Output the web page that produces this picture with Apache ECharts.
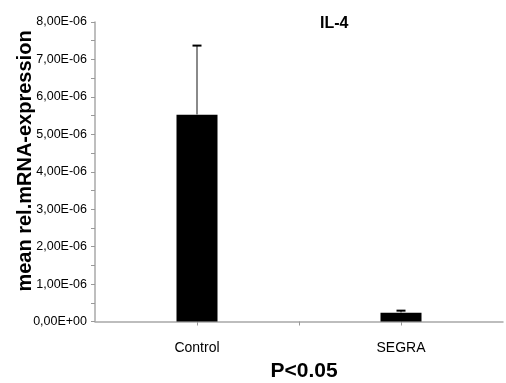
<!DOCTYPE html>
<html>
<head>
<meta charset="utf-8">
<script src="https://cdn.jsdelivr.net/npm/echarts@6/dist/echarts.min.js"></script>
<style>html,body{margin:0;padding:0;background:#fff;}#c{width:506px;height:383px;}</style>
</head>
<body>
<div id="c"></div>
<script>
// ---- data ----
var categories = ['Control', 'SEGRA'];
var means = [5.52e-6, 0.235e-6];
var errorTops = [7.37e-6, 0.29e-6];
var chartTitle = 'IL-4';
var yAxisTitle = 'mean rel.mRNA-expression';
var pValueText = 'P<0.05';
var yMax = 8e-6;
var yStep = 0.5e-6;

// category slots: blank slot before, between and after the groups
var slots = ['', categories[0], '', categories[1], ''];
var slotIndex = [1, 3];
var barData = slots.map(function () { return null; });
var errData = [];
categories.forEach(function (c, i) {
  barData[slotIndex[i]] = means[i];
  errData.push([slotIndex[i], means[i], errorTops[i]]);
});

function fmtY(v) {
  var n = Math.round(v / 1e-7);
  if (n % 10 !== 0) return '';
  var m = n / 10;
  if (m === 0) return '0,00E+00';
  return m + ',00E-06';
}

var chart = echarts.init(document.getElementById('c'), null, {renderer: 'canvas'});
chart.setOption({
  animation: false,
  backgroundColor: '#ffffff',
  textStyle: {fontFamily: 'Liberation Sans, Arial, sans-serif'},
  title: {
    text: chartTitle, left: 315, top: 11,
    textStyle: {fontSize: 16, fontWeight: 'bold', color: '#000', fontFamily: 'Liberation Sans, Arial, sans-serif'}
  },
  grid: {left: 95, right: 1, top: 22, bottom: 61.5, containLabel: false},
  xAxis: {
    type: 'category',
    data: slots,
    boundaryGap: false,
    axisLine: {lineStyle: {color: '#a8a8a8', width: 1.5}},
    axisTick: {
      show: true, length: 4, inside: false,
      interval: function (idx) { return idx > 0 && idx < slots.length - 1; },
      lineStyle: {color: '#999', width: 1}
    },
    axisLabel: {
      interval: 0, margin: 20, fontSize: 14, color: '#000',
      fontFamily: 'Liberation Sans, Arial, sans-serif'
    },
    splitLine: {show: false}
  },
  yAxis: {
    type: 'value',
    min: 0, max: yMax, interval: yStep,
    axisLine: {show: true, lineStyle: {color: '#a8a8a8', width: 1.5}},
    axisTick: {show: true, length: 4, lineStyle: {color: '#999', width: 1}},
    axisLabel: {formatter: fmtY, fontSize: 12.5, color: '#000', margin: 8,
      fontFamily: 'Liberation Sans, Arial, sans-serif'},
    splitLine: {show: false}
  },
  graphic: [
    {
      type: 'text', x: 25, y: 161, rotation: Math.PI / 2,
      style: {text: yAxisTitle, fontSize: 20, fontWeight: 'bold', fill: '#000',
        fontFamily: 'Liberation Sans, Arial, sans-serif', textAlign: 'center', textVerticalAlign: 'middle'}
    },
    {
      type: 'text', x: 304, y: 371,
      style: {text: pValueText, fontSize: 21, fontWeight: 'bold', fill: '#000',
        fontFamily: 'Liberation Sans, Arial, sans-serif', textAlign: 'center', textVerticalAlign: 'middle'}
    }
  ],
  series: [
    {
      type: 'bar',
      data: barData,
      barWidth: 41,
      itemStyle: {color: '#000000'},
      z: 2
    },
    {
      type: 'custom',
      data: errData,
      z: 3,
      renderItem: function (params, api) {
        var x = api.value(0);
        var lo = api.coord([x, api.value(1)]);
        var hi = api.coord([x, api.value(2)]);
        return {
          type: 'group',
          children: [
            {type: 'line', shape: {x1: lo[0], y1: lo[1], x2: hi[0], y2: hi[1]},
              style: {stroke: '#8a8a8a', lineWidth: 2}},
            {type: 'line', shape: {x1: hi[0] - 4.5, y1: hi[1], x2: hi[0] + 4.5, y2: hi[1]},
              style: {stroke: '#000', lineWidth: 2}}
          ]
        };
      }
    }
  ]
});
</script>
</body>
</html>
